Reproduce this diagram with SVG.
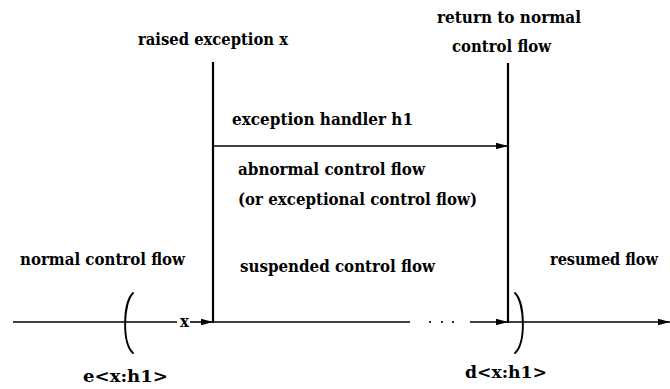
<svg xmlns="http://www.w3.org/2000/svg" width="670" height="389" viewBox="0 0 670 389">
  <style>
    .lbl { font-family: "DejaVu Serif", "Liberation Serif", serif; font-weight: bold; font-size: 16px; fill: #000; }
    .ln { stroke: #000; stroke-width: 1.6; fill: none; }
    .bar { stroke: #000; stroke-width: 2.2; fill: none; }
    .brk { stroke: #000; stroke-width: 1.9; fill: none; stroke-linecap: round; }
  </style>
  <defs>
    <marker id="head" viewBox="0 0 12 8" refX="12" refY="4" markerWidth="12" markerHeight="8" markerUnits="userSpaceOnUse" orient="auto">
      <path d="M0,0.8 L12,4 L0,7.2 Z" fill="#000"/>
    </marker>
  </defs>
  <rect width="670" height="389" fill="#fff"/>

  <!-- raise point and handler return point -->
  <g id="raise">
    <line class="bar" x1="213" y1="62" x2="213" y2="323"/>
    <text class="lbl" x="138" y="45" textLength="150" lengthAdjust="spacingAndGlyphs">raised exception x</text>
  </g>
  <g id="return">
    <line class="bar" x1="508" y1="63" x2="508" y2="323"/>
    <text class="lbl" x="437" y="23" textLength="144" lengthAdjust="spacingAndGlyphs">return to normal</text>
    <text class="lbl" x="452" y="52" textLength="99" lengthAdjust="spacingAndGlyphs">control flow</text>
  </g>

  <!-- handler region -->
  <g id="handler">
    <text class="lbl" x="232" y="125" textLength="181" lengthAdjust="spacingAndGlyphs">exception handler h1</text>
    <text class="lbl" x="238" y="175" textLength="187" lengthAdjust="spacingAndGlyphs">abnormal control flow</text>
    <text class="lbl" x="238" y="205" textLength="239" lengthAdjust="spacingAndGlyphs">(or exceptional control flow)</text>
  </g>

  <g id="normal">
    <text class="lbl" x="20" y="265" textLength="165" lengthAdjust="spacingAndGlyphs">normal control flow</text>
  </g>
  <g id="suspended">
    <text class="lbl" x="240" y="272" textLength="195" lengthAdjust="spacingAndGlyphs">suspended control flow</text>
  </g>
  <g id="resumed">
    <text class="lbl" x="550" y="265" textLength="108" lengthAdjust="spacingAndGlyphs">resumed flow</text>
  </g>

  <!-- enable / disable brackets -->
  <g id="enable">
    <path class="brk" d="M133,293 C123,303 122,343 133,353"/>
    <text class="lbl" x="83" y="382" textLength="85" lengthAdjust="spacingAndGlyphs">e&lt;x:h1&gt;</text>
  </g>
  <g id="disable">
    <path class="brk" d="M515,293 C525,303 526,343 515,353"/>
    <text class="lbl" x="465" y="378" textLength="82" lengthAdjust="spacingAndGlyphs">d&lt;x:h1&gt;</text>
  </g>

  <!-- connectors -->
  <g id="connectors">
    <line class="ln" x1="13" y1="322" x2="177" y2="322"/>
    <text class="lbl" x="180" y="327" font-size="13" textLength="9" lengthAdjust="spacingAndGlyphs">x</text>
    <line class="ln" x1="190" y1="322" x2="213" y2="322" marker-end="url(#head)"/>
    <line class="ln" x1="213" y1="146" x2="508" y2="146" marker-end="url(#head)"/>
    <line class="ln" x1="213" y1="322" x2="410" y2="322"/>
    <circle cx="430" cy="322" r="1.1" fill="#000"/>
    <circle cx="442" cy="322" r="1.1" fill="#000"/>
    <circle cx="453" cy="322" r="1.1" fill="#000"/>
    <line class="ln" x1="470" y1="322" x2="508" y2="322" marker-end="url(#head)"/>
    <line class="ln" x1="508" y1="322" x2="670" y2="322" marker-end="url(#head)"/>
  </g>
</svg>
